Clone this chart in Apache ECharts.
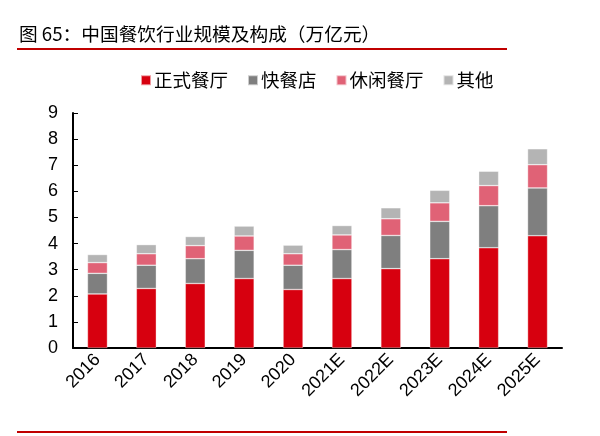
<!DOCTYPE html>
<html><head><meta charset="utf-8">
<script src="https://cdn.jsdelivr.net/npm/echarts@6/dist/echarts.min.js"></script>
<style>html,body{margin:0;padding:0;background:#fff}#c{width:600px;height:436px}</style>
</head><body><div id="c"></div>
<script>
const title = '图 65：中国餐饮行业规模及构成（万亿元）';
const categories = ['2016','2017','2018','2019','2020','2021E','2022E','2023E','2024E','2025E'];
const seriesNames = ['正式餐厅','快餐店','休闲餐厅','其他'];
const formal = [2.07,2.28,2.47,2.66,2.24,2.66,3.04,3.42,3.84,4.30];
const fastFood = [0.79,0.89,0.95,1.08,0.93,1.11,1.27,1.43,1.61,1.83];
const casual = [0.41,0.44,0.50,0.55,0.44,0.56,0.64,0.71,0.77,0.89];
const other = [0.31,0.35,0.35,0.38,0.33,0.36,0.42,0.48,0.55,0.61];
const colors = ['#d7000f','#7f7f7f','#e06276','#b4b4b4'];
const dataSets = [formal, fastFood, casual, other];
const font = '"Liberation Sans", Arial, sans-serif';
const cjk = '"Noto Sans CJK SC", sans-serif';
const chart = echarts.init(document.getElementById('c'));
chart.setOption({
  animation:false,
  graphic:[
    {type:'text',left:19,top:25,style:{text:title,font:'18.7px ' + cjk,fill:'#000'}},
    {type:'rect',shape:{x:17,y:48,width:490,height:2},style:{fill:'#c00000'}},
    {type:'rect',shape:{x:17,y:431,width:490,height:2},style:{fill:'#c00000'}}
  ],
  legend:{top:71,left:140,padding:0,itemWidth:10,itemHeight:10,itemGap:19,icon:'rect',
    textStyle:{fontSize:18.5,color:'#000',fontFamily:cjk,padding:[0,0,0,-2]},
    data:seriesNames},
  grid:{left:73,right:38,top:113,bottom:88,containLabel:false},
  xAxis:{type:'category',data:categories,
    axisLine:{lineStyle:{color:'#000',width:2}},axisTick:{show:false},
    axisLabel:{rotate:45,fontSize:18,color:'#000',fontFamily:font,margin:9}},
  yAxis:{type:'value',min:0,max:9,interval:1,
    axisLine:{show:true,lineStyle:{color:'#000',width:2}},
    axisTick:{show:true,inside:true,length:5,lineStyle:{color:'#000'}},
    splitLine:{show:false},
    axisLabel:{fontSize:18,color:'#000',fontFamily:font,margin:15}},
  series: seriesNames.map((n,i)=>({name:n,type:'bar',stack:'s',data:dataSets[i],barWidth:20,
    itemStyle:{color:colors[i],borderColor:'rgba(255,255,255,0.6)',borderWidth:0.6}}))
});
</script></body></html>
